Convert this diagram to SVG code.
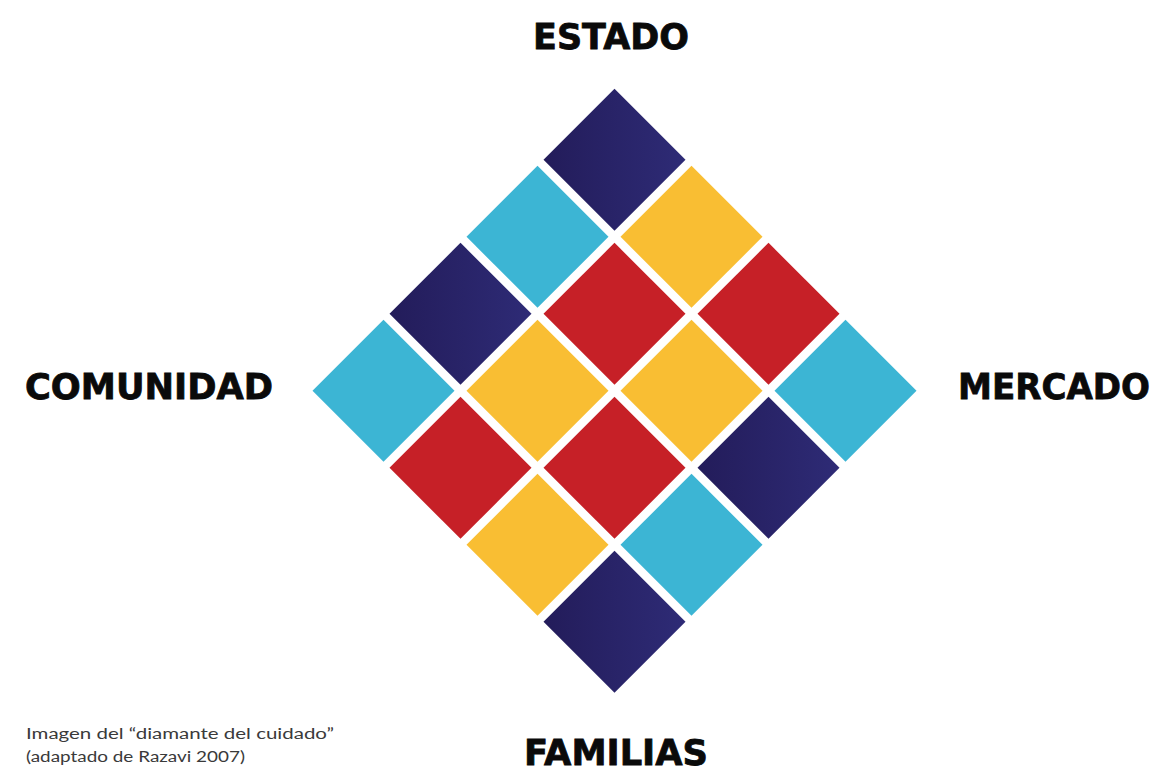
<svg xmlns="http://www.w3.org/2000/svg" xmlns:xlink="http://www.w3.org/1999/xlink" width="1158" height="768" viewBox="0 0 1158 768">
<style>
.navy{fill:url(#navyGrad)}
.cyan{fill:#3cb5d4}
.yellow{fill:#f9be33}
.red{fill:#c62027}
.label{font-family:"DejaVu Sans","Liberation Sans",sans-serif;font-weight:bold;font-size:36px;fill:#0a0a0a;stroke:#0a0a0a;stroke-width:0.8}
.caption{font-family:Lato,"Liberation Sans",sans-serif;font-size:15.5px;fill:#3a3a3a}
</style>
<defs>
<linearGradient id="navyGrad" x1="0" y1="0" x2="1" y2="0">
<stop offset="0" stop-color="#231c5a"/>
<stop offset="1" stop-color="#2e2b76"/>
</linearGradient>
<path id="tile" d="M0,-71 L71,0 L0,71 L-71,0 Z"/>
</defs>
<rect width="1158" height="768" fill="#ffffff"/>
<g id="diamond">
<use xlink:href="#tile" class="navy" x="614.5" y="159.8"/>
<use xlink:href="#tile" class="yellow" x="691.5" y="236.8"/>
<use xlink:href="#tile" class="red" x="768.5" y="313.8"/>
<use xlink:href="#tile" class="cyan" x="845.5" y="390.8"/>
<use xlink:href="#tile" class="cyan" x="537.5" y="236.8"/>
<use xlink:href="#tile" class="red" x="614.5" y="313.8"/>
<use xlink:href="#tile" class="yellow" x="691.5" y="390.8"/>
<use xlink:href="#tile" class="navy" x="768.5" y="467.8"/>
<use xlink:href="#tile" class="navy" x="460.5" y="313.8"/>
<use xlink:href="#tile" class="yellow" x="537.5" y="390.8"/>
<use xlink:href="#tile" class="red" x="614.5" y="467.8"/>
<use xlink:href="#tile" class="cyan" x="691.5" y="544.8"/>
<use xlink:href="#tile" class="cyan" x="383.5" y="390.8"/>
<use xlink:href="#tile" class="red" x="460.5" y="467.8"/>
<use xlink:href="#tile" class="yellow" x="537.5" y="544.8"/>
<use xlink:href="#tile" class="navy" x="614.5" y="621.8"/>
</g>
<g id="label-estado"><text class="label" x="533" y="49" textLength="156" lengthAdjust="spacingAndGlyphs">ESTADO</text></g>
<g id="label-mercado"><text class="label" x="958" y="399" textLength="192" lengthAdjust="spacingAndGlyphs">MERCADO</text></g>
<g id="label-comunidad"><text class="label" x="25" y="399" textLength="248" lengthAdjust="spacingAndGlyphs">COMUNIDAD</text></g>
<g id="label-familias"><text class="label" x="524" y="765" textLength="184" lengthAdjust="spacingAndGlyphs">FAMILIAS</text></g>
<g id="caption">
<text class="caption" x="26" y="739" textLength="308" lengthAdjust="spacingAndGlyphs">Imagen del “diamante del cuidado”</text>
<text class="caption" x="26" y="761.5" textLength="219" lengthAdjust="spacingAndGlyphs">(adaptado de Razavi 2007)</text>
</g>
</svg>
